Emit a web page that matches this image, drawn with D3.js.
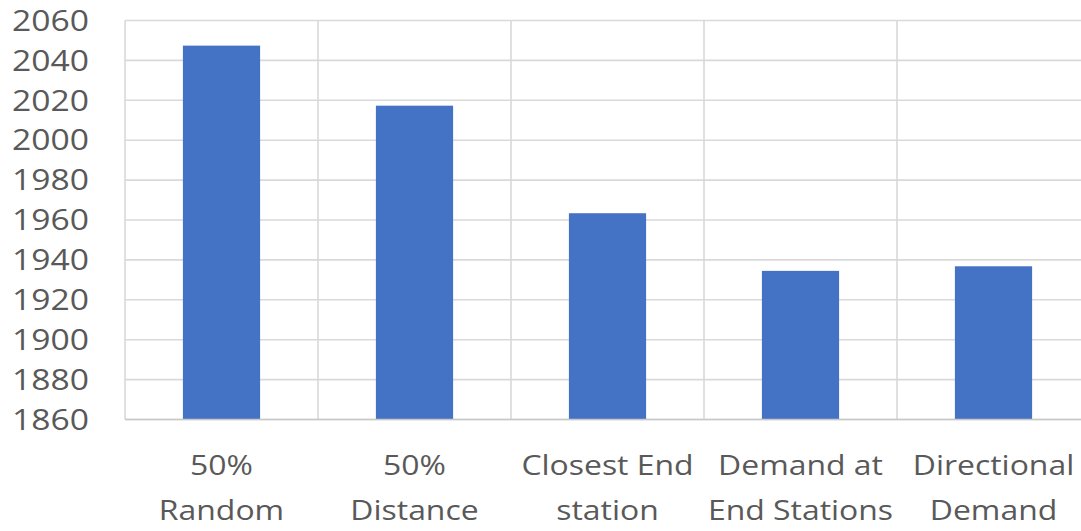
<!DOCTYPE html>
<html>
<head>
<meta charset="utf-8">
<script src="https://cdn.jsdelivr.net/npm/d3@7"></script>
<style>
  html, body { margin: 0; padding: 0; background: #fff; }
  svg { display: block; }
  text { font-family: "Open Sans", sans-serif; fill: #595959; }
</style>
</head>
<body>
<svg id="chart" width="1081" height="531"></svg>
<script>
// Category labels (line breaks where the axis wraps them)
const categories = [
  "50%\nRandom",
  "50%\nDistance",
  "Closest End\nstation",
  "Demand at\nEnd Stations",
  "Directional\nDemand"
];
const values = [2047.4, 2017.3, 1963.4, 1934.5, 1936.8];
const yTicks = [1860, 1880, 1900, 1920, 1940, 1960, 1980, 2000, 2020, 2040, 2060];

const svg = d3.select("#chart");
const plot = { left: 125, right: 1090, top: 20.5, bottom: 419.5 };
const textStretch = 1.14;
const tickStretch = 1.18;

const x = d3.scaleBand()
  .domain(categories)
  .range([plot.left, plot.right])
  .paddingInner(0)
  .paddingOuter(0);

const y = d3.scaleLinear()
  .domain([1860, 2060])
  .range([plot.bottom, plot.top]);

const grid = svg.append("g");

// horizontal gridlines
grid.selectAll("line.h")
  .data(yTicks)
  .join("line")
  .attr("class", "h")
  .attr("x1", plot.left)
  .attr("x2", plot.right)
  .attr("y1", d => y(d))
  .attr("y2", d => y(d))
  .attr("stroke", "#d9d9d9")
  .attr("stroke-width", 1.6);

// vertical gridlines at category boundaries
const bounds = categories.map(c => x(c)).concat([x(categories[categories.length - 1]) + x.bandwidth()]);
grid.selectAll("line.v")
  .data(bounds)
  .join("line")
  .attr("class", "v")
  .attr("x1", d => d)
  .attr("x2", d => d)
  .attr("y1", plot.top)
  .attr("y2", plot.bottom)
  .attr("stroke", "#d9d9d9")
  .attr("stroke-width", 1.6);

// bars
const barWidth = x.bandwidth() * 0.4;
svg.append("g")
  .selectAll("rect")
  .data(values)
  .join("rect")
  .attr("x", (d, i) => x(categories[i]) + (x.bandwidth() - barWidth) / 2)
  .attr("width", barWidth)
  .attr("y", d => y(d))
  .attr("height", d => y(1860) - y(d))
  .attr("fill", "#4472c4");

// base line
svg.append("line")
  .attr("x1", plot.left)
  .attr("x2", plot.right)
  .attr("y1", y(1860))
  .attr("y2", y(1860))
  .attr("stroke", "#c8c8c8")
  .attr("stroke-width", 1.6);

// y tick labels
svg.append("g")
  .selectAll("text")
  .data(yTicks)
  .join("text")
  .attr("transform", d => `translate(89,${y(d)}) scale(${tickStretch},1)`)
  .attr("text-anchor", "end")
  .attr("dy", "0.36em")
  .attr("font-size", 28.5)
  .text(d => d);

// category labels
const catG = svg.append("g")
  .selectAll("g")
  .data(categories)
  .join("g")
  .attr("transform", d => `translate(${x(d) + x.bandwidth() / 2},0) scale(${textStretch},1)`);

catG.selectAll("text")
  .data(d => d.split("\n"))
  .join("text")
  .attr("text-anchor", "middle")
  .attr("x", 0)
  .attr("y", (d, i) => 475 + i * 45)
  .attr("font-size", 28)
  .text(d => d);
</script>
</body>
</html>
